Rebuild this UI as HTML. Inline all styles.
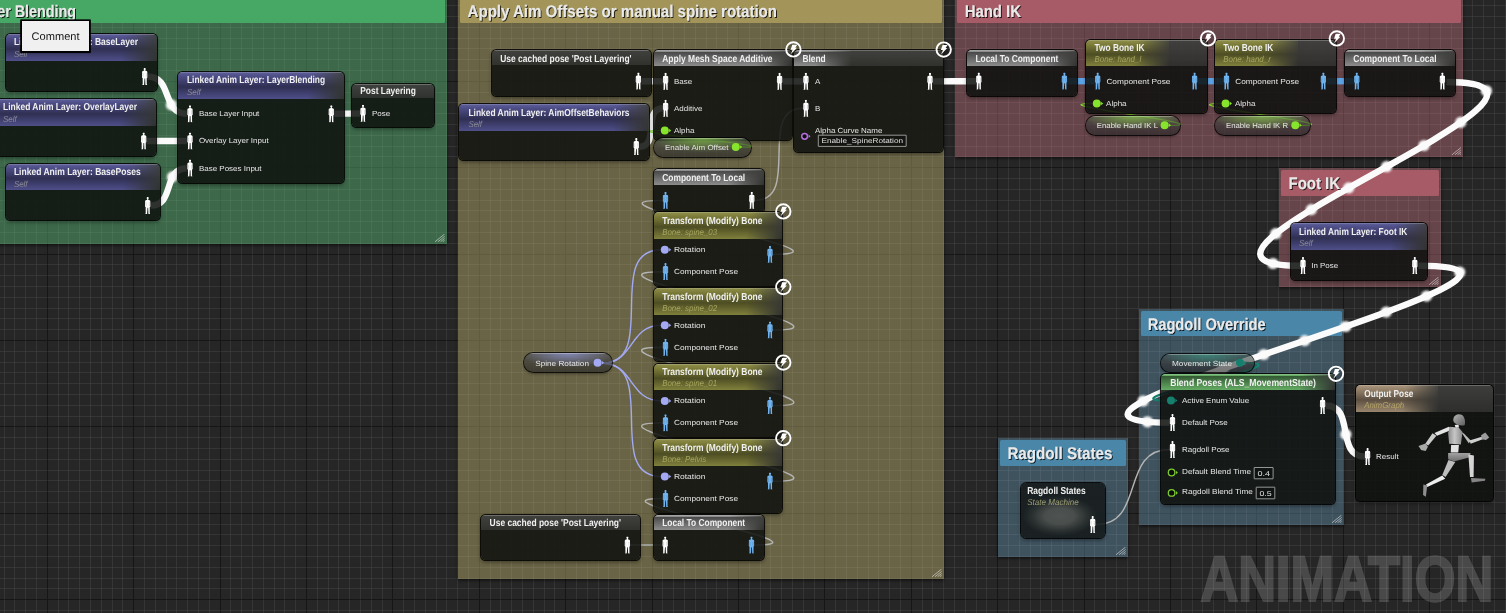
<!DOCTYPE html>
<html lang="en"><head><meta charset="utf-8"><title>AnimGraph</title>
<style>
html,body{margin:0;padding:0;background:#262626;}
body{width:1506px;height:613px;overflow:hidden;font-family:"Liberation Sans",sans-serif;}
#g{position:relative;width:1506px;height:613px;overflow:hidden;background-color:#262626;}
.cm{position:absolute;box-sizing:border-box;box-shadow:0 1.5px 3px rgba(0,0,0,0.55);}
.ch{position:absolute;border-radius:1.5px;}
.rz{position:absolute;}
svg.ly{will-change:transform;position:absolute;left:0;top:0;width:1506px;height:613px;overflow:hidden;pointer-events:none;}
svg text{font-family:"Liberation Sans",sans-serif;white-space:pre;text-rendering:geometricPrecision;}
.sh{paint-order:stroke;}
.nd{position:absolute;box-sizing:border-box;border-radius:4.5px;background:rgba(15,17,15,0.865);
 box-shadow:0 0 0 1px rgba(0,0,0,0.85),0 2px 4px rgba(0,0,0,0.45);overflow:hidden;}
.nh{position:absolute;left:0;top:0;right:0;border-radius:3.5px 3.5px 0 0;overflow:hidden;
 background:linear-gradient(to bottom,rgba(255,255,255,0.36) 0,rgba(255,255,255,0.0) 1.5px),linear-gradient(to bottom,rgba(90,90,88,0.62) 0,rgba(64,64,62,0.62) 100%);}
.sp{position:absolute;left:0;top:0;height:100%;-webkit-mask-image:linear-gradient(100deg,#000 0,#000 calc(100% - 36px),transparent 100%);mask-image:linear-gradient(100deg,#000 0,#000 calc(100% - 36px),transparent 100%);}
.sp.n1{background:linear-gradient(to bottom,rgba(255,255,255,0.30) 0,rgba(255,255,255,0.0) 1.5px,rgba(0,0,0,0.50) 1.6px,rgba(0,0,0,0.30) 45%,rgba(0,0,0,0.0) 100%),var(--c);}
.sp.n2{background:linear-gradient(to bottom,rgba(255,255,255,0.30) 0,rgba(255,255,255,0.04) 1.5px,rgba(0,0,0,0.05) 4px,rgba(0,0,0,0.42) 55%,rgba(0,0,0,0.04) 100%),var(--c);}
.pl{position:absolute;box-sizing:border-box;border-radius:10px;
 background:linear-gradient(to bottom,rgba(255,255,255,0.45) 0,rgba(255,255,255,0.0) 1.4px),
 radial-gradient(ellipse 55% 75% at 50% 0%,var(--g) 0,transparent 100%),
 linear-gradient(to bottom,rgba(72,72,72,0.62) 0,rgba(36,36,36,0.62) 100%);
 box-shadow:0 0 0 1px rgba(0,0,0,0.8),0 2px 3px rgba(0,0,0,0.4);}
.nd.sm{border-radius:5.5px;background:radial-gradient(ellipse 37px 20px at 46% 60%,rgba(80,84,81,0.95) 0,rgba(74,78,75,0.94) 40%,rgba(40,45,44,0.92) 75%,rgba(22,27,27,0.9) 100%);}
#tip{position:absolute;left:22px;top:21px;width:67.1px;height:30.4px;background:#f0f0f0;box-shadow:0 0 0 1.6px #000,0 0.5px 0 1.6px #000;}
</style></head>
<body>
<div id="g">
<svg class="ly" viewBox="0 0 1506 613"><path d="M4.5 0V613M14.5 0V613M25.5 0V613M36.5 0V613M58.5 0V613M68.5 0V613M79.5 0V613M90.5 0V613M101.5 0V613M112.5 0V613M122.5 0V613M144.5 0V613M155.5 0V613M166.5 0V613M176.5 0V613M187.5 0V613M198.5 0V613M209.5 0V613M230.5 0V613M241.5 0V613M252.5 0V613M263.5 0V613M274.5 0V613M284.5 0V613M295.5 0V613M317.5 0V613M328.5 0V613M338.5 0V613M349.5 0V613M360.5 0V613M371.5 0V613M382.5 0V613M403.5 0V613M414.5 0V613M425.5 0V613M436.5 0V613M446.5 0V613M457.5 0V613M468.5 0V613M490.5 0V613M500.5 0V613M511.5 0V613M522.5 0V613M533.5 0V613M544.5 0V613M554.5 0V613M576.5 0V613M587.5 0V613M598.5 0V613M608.5 0V613M619.5 0V613M630.5 0V613M641.5 0V613M662.5 0V613M673.5 0V613M684.5 0V613M695.5 0V613M706.5 0V613M716.5 0V613M727.5 0V613M749.5 0V613M760.5 0V613M770.5 0V613M781.5 0V613M792.5 0V613M803.5 0V613M814.5 0V613M835.5 0V613M846.5 0V613M857.5 0V613M868.5 0V613M878.5 0V613M889.5 0V613M900.5 0V613M922.5 0V613M932.5 0V613M943.5 0V613M954.5 0V613M965.5 0V613M976.5 0V613M986.5 0V613M1008.5 0V613M1019.5 0V613M1030.5 0V613M1040.5 0V613M1051.5 0V613M1062.5 0V613M1073.5 0V613M1094.5 0V613M1105.5 0V613M1116.5 0V613M1127.5 0V613M1138.5 0V613M1148.5 0V613M1159.5 0V613M1181.5 0V613M1192.5 0V613M1202.5 0V613M1213.5 0V613M1224.5 0V613M1235.5 0V613M1246.5 0V613M1267.5 0V613M1278.5 0V613M1289.5 0V613M1300.5 0V613M1310.5 0V613M1321.5 0V613M1332.5 0V613M1354.5 0V613M1364.5 0V613M1375.5 0V613M1386.5 0V613M1397.5 0V613M1408.5 0V613M1418.5 0V613M1440.5 0V613M1451.5 0V613M1462.5 0V613M1472.5 0V613M1483.5 0V613M1494.5 0V613M1505.5 0V613M0 5.5H1506M0 16.5H1506M0 27.5H1506M0 38.5H1506M0 48.5H1506M0 59.5H1506M0 70.5H1506M0 92.5H1506M0 102.5H1506M0 113.5H1506M0 124.5H1506M0 135.5H1506M0 146.5H1506M0 156.5H1506M0 178.5H1506M0 189.5H1506M0 200.5H1506M0 210.5H1506M0 221.5H1506M0 232.5H1506M0 243.5H1506M0 264.5H1506M0 275.5H1506M0 286.5H1506M0 297.5H1506M0 308.5H1506M0 318.5H1506M0 329.5H1506M0 351.5H1506M0 362.5H1506M0 372.5H1506M0 383.5H1506M0 394.5H1506M0 405.5H1506M0 416.5H1506M0 437.5H1506M0 448.5H1506M0 459.5H1506M0 470.5H1506M0 480.5H1506M0 491.5H1506M0 502.5H1506M0 524.5H1506M0 534.5H1506M0 545.5H1506M0 556.5H1506M0 567.5H1506M0 578.5H1506M0 588.5H1506M0 610.5H1506" stroke="#2c2c2c" stroke-width="1" fill="none"/><path d="M47.5 0V613M133.5 0V613M220.5 0V613M306.5 0V613M392.5 0V613M479.5 0V613M565.5 0V613M652.5 0V613M738.5 0V613M824.5 0V613M911.5 0V613M997.5 0V613M1084.5 0V613M1170.5 0V613M1256.5 0V613M1343.5 0V613M1429.5 0V613M0 81.5H1506M0 167.5H1506M0 254.5H1506M0 340.5H1506M0 426.5H1506M0 513.5H1506M0 599.5H1506" stroke="#161616" stroke-width="1" fill="none"/></svg>
<div class="cm" style="left:-40.00px;top:-4.00px;width:487.00px;height:247.90px;background:rgba(80,160,103,0.55)"></div>
<div class="cm" style="left:457.90px;top:-4.00px;width:486.10px;height:583.00px;background:rgba(166,157,100,0.52)"></div>
<div class="cm" style="left:955.00px;top:-4.00px;width:508.10px;height:161.00px;background:rgba(179,106,117,0.46)"></div>
<div class="cm" style="left:1279.00px;top:168.00px;width:162.00px;height:119.00px;background:rgba(179,106,117,0.46)"></div>
<div class="cm" style="left:1139.00px;top:309.00px;width:205.00px;height:215.90px;background:rgba(94,138,164,0.46)"></div>
<div class="cm" style="left:998.00px;top:438.00px;width:130.00px;height:119.00px;background:rgba(94,138,164,0.46)"></div>
<svg class="ly" viewBox="0 0 1506 613"><path d="M4.5 0V613M14.5 0V613M25.5 0V613M36.5 0V613M58.5 0V613M68.5 0V613M79.5 0V613M90.5 0V613M101.5 0V613M112.5 0V613M122.5 0V613M144.5 0V613M155.5 0V613M166.5 0V613M176.5 0V613M187.5 0V613M198.5 0V613M209.5 0V613M230.5 0V613M241.5 0V613M252.5 0V613M263.5 0V613M274.5 0V613M284.5 0V613M295.5 0V613M317.5 0V613M328.5 0V613M338.5 0V613M349.5 0V613M360.5 0V613M371.5 0V613M382.5 0V613M403.5 0V613M414.5 0V613M425.5 0V613M436.5 0V613M446.5 0V613M457.5 0V613M468.5 0V613M490.5 0V613M500.5 0V613M511.5 0V613M522.5 0V613M533.5 0V613M544.5 0V613M554.5 0V613M576.5 0V613M587.5 0V613M598.5 0V613M608.5 0V613M619.5 0V613M630.5 0V613M641.5 0V613M662.5 0V613M673.5 0V613M684.5 0V613M695.5 0V613M706.5 0V613M716.5 0V613M727.5 0V613M749.5 0V613M760.5 0V613M770.5 0V613M781.5 0V613M792.5 0V613M803.5 0V613M814.5 0V613M835.5 0V613M846.5 0V613M857.5 0V613M868.5 0V613M878.5 0V613M889.5 0V613M900.5 0V613M922.5 0V613M932.5 0V613M943.5 0V613M954.5 0V613M965.5 0V613M976.5 0V613M986.5 0V613M1008.5 0V613M1019.5 0V613M1030.5 0V613M1040.5 0V613M1051.5 0V613M1062.5 0V613M1073.5 0V613M1094.5 0V613M1105.5 0V613M1116.5 0V613M1127.5 0V613M1138.5 0V613M1148.5 0V613M1159.5 0V613M1181.5 0V613M1192.5 0V613M1202.5 0V613M1213.5 0V613M1224.5 0V613M1235.5 0V613M1246.5 0V613M1267.5 0V613M1278.5 0V613M1289.5 0V613M1300.5 0V613M1310.5 0V613M1321.5 0V613M1332.5 0V613M1354.5 0V613M1364.5 0V613M1375.5 0V613M1386.5 0V613M1397.5 0V613M1408.5 0V613M1418.5 0V613M1440.5 0V613M1451.5 0V613M1462.5 0V613M1472.5 0V613M1483.5 0V613M1494.5 0V613M1505.5 0V613M0 5.5H1506M0 16.5H1506M0 27.5H1506M0 38.5H1506M0 48.5H1506M0 59.5H1506M0 70.5H1506M0 92.5H1506M0 102.5H1506M0 113.5H1506M0 124.5H1506M0 135.5H1506M0 146.5H1506M0 156.5H1506M0 178.5H1506M0 189.5H1506M0 200.5H1506M0 210.5H1506M0 221.5H1506M0 232.5H1506M0 243.5H1506M0 264.5H1506M0 275.5H1506M0 286.5H1506M0 297.5H1506M0 308.5H1506M0 318.5H1506M0 329.5H1506M0 351.5H1506M0 362.5H1506M0 372.5H1506M0 383.5H1506M0 394.5H1506M0 405.5H1506M0 416.5H1506M0 437.5H1506M0 448.5H1506M0 459.5H1506M0 470.5H1506M0 480.5H1506M0 491.5H1506M0 502.5H1506M0 524.5H1506M0 534.5H1506M0 545.5H1506M0 556.5H1506M0 567.5H1506M0 578.5H1506M0 588.5H1506M0 610.5H1506" stroke="rgba(255,255,255,0.043)" stroke-width="1" fill="none"/></svg>
<div class="ch" style="left:-38.00px;top:-2.00px;width:483.00px;height:25.00px;background:#47a764"></div><svg class="rz" style="left:435.40px;top:234.00px" width="9.6" height="7.8" viewBox="0 0 9.6 7.8"><path d="M0 7.8L9.6 0M2.9 7.8L9.6 2.4M5.5 7.8L9.6 4.5M7.8 7.8L9.6 6.3" stroke="rgba(255,255,255,0.52)" stroke-width="0.95" fill="none"/></svg>
<div class="ch" style="left:459.90px;top:-2.00px;width:482.10px;height:25.00px;background:#a3955a"></div><svg class="rz" style="left:932.40px;top:569.10px" width="9.6" height="7.8" viewBox="0 0 9.6 7.8"><path d="M0 7.8L9.6 0M2.9 7.8L9.6 2.4M5.5 7.8L9.6 4.5M7.8 7.8L9.6 6.3" stroke="rgba(255,255,255,0.52)" stroke-width="0.95" fill="none"/></svg>
<div class="ch" style="left:957.00px;top:-2.00px;width:504.10px;height:25.00px;background:#a65b66"></div><svg class="rz" style="left:1451.50px;top:147.10px" width="9.6" height="7.8" viewBox="0 0 9.6 7.8"><path d="M0 7.8L9.6 0M2.9 7.8L9.6 2.4M5.5 7.8L9.6 4.5M7.8 7.8L9.6 6.3" stroke="rgba(255,255,255,0.52)" stroke-width="0.95" fill="none"/></svg>
<div class="ch" style="left:1281.00px;top:170.00px;width:158.00px;height:25.90px;background:#a65b66"></div><svg class="rz" style="left:1429.40px;top:277.10px" width="9.6" height="7.8" viewBox="0 0 9.6 7.8"><path d="M0 7.8L9.6 0M2.9 7.8L9.6 2.4M5.5 7.8L9.6 4.5M7.8 7.8L9.6 6.3" stroke="rgba(255,255,255,0.52)" stroke-width="0.95" fill="none"/></svg>
<div class="ch" style="left:1141.00px;top:311.00px;width:201.00px;height:24.90px;background:#4a86a8"></div><svg class="rz" style="left:1332.40px;top:515.00px" width="9.6" height="7.8" viewBox="0 0 9.6 7.8"><path d="M0 7.8L9.6 0M2.9 7.8L9.6 2.4M5.5 7.8L9.6 4.5M7.8 7.8L9.6 6.3" stroke="rgba(255,255,255,0.52)" stroke-width="0.95" fill="none"/></svg>
<div class="ch" style="left:1000.00px;top:440.00px;width:126.00px;height:25.90px;background:#4a86a8"></div><svg class="rz" style="left:1116.40px;top:547.10px" width="9.6" height="7.8" viewBox="0 0 9.6 7.8"><path d="M0 7.8L9.6 0M2.9 7.8L9.6 2.4M5.5 7.8L9.6 4.5M7.8 7.8L9.6 6.3" stroke="rgba(255,255,255,0.52)" stroke-width="0.95" fill="none"/></svg>
<svg class="ly" viewBox="0 0 1506 613">
<defs><filter id="bl" x="-50%" y="-50%" width="200%" height="200%"><feGaussianBlur stdDeviation="1.0"/></filter></defs>
<path d="M147.50 76.50 C173.03 76.50 161.27 113.80 186.80 113.80" fill="none" stroke="#fbfbfb" stroke-width="6.4" opacity="1" stroke-linecap="butt"/>
<g fill="#fbfbfb" filter="url(#bl)"><circle cx="171.4" cy="104.9" r="5.60"/></g>
<path d="M146.50 141.00 C159.93 141.00 173.37 141.00 186.80 141.00" fill="none" stroke="#fbfbfb" stroke-width="6.4" opacity="1" stroke-linecap="butt"/>
<path d="M150.80 205.60 C175.27 205.60 162.33 168.20 186.80 168.20" fill="none" stroke="#fbfbfb" stroke-width="6.4" opacity="1" stroke-linecap="butt"/>
<g fill="#fbfbfb" filter="url(#bl)"><circle cx="172.5" cy="176.9" r="5.60"/></g>
<path d="M334.20 113.80 C342.90 113.80 351.30 113.50 360.00 113.50" fill="none" stroke="#fbfbfb" stroke-width="6.4" opacity="1" stroke-linecap="butt"/>
<path d="M641.50 81.20 C648.73 81.20 655.77 81.40 663.00 81.40" fill="none" stroke="#fbfbfb" stroke-width="6.4" opacity="1" stroke-linecap="butt"/>
<path d="M639.30 146.70 C660.00 146.70 642.30 108.30 663.00 108.30" fill="none" stroke="#fbfbfb" stroke-width="6.4" opacity="1" stroke-linecap="butt"/>
<path d="M740.00 147.20 C801.02 147.20 599.98 130.50 661.00 130.50" fill="none" stroke="#7fdc28" stroke-width="1.2" opacity="1" stroke-linecap="butt"/>
<path d="M782.50 81.40 C789.33 81.40 796.17 81.40 803.00 81.40" fill="none" stroke="#fbfbfb" stroke-width="6.4" opacity="1" stroke-linecap="butt"/>
<path d="M755.00 200.40 C801.70 200.40 756.30 108.30 803.00 108.30" fill="none" stroke="#b4b4b4" stroke-width="1.4" opacity="1" stroke-linecap="butt"/>
<path d="M933.00 81.40 C947.40 81.40 961.60 81.20 976.00 81.20" fill="none" stroke="#fbfbfb" stroke-width="6.4" opacity="1" stroke-linecap="butt"/>
<path d="M1067.20 81.20 C1076.40 81.20 1085.60 81.20 1094.80 81.20" fill="none" stroke="#5ea6ea" stroke-width="6.4" opacity="1" stroke-linecap="butt"/>
<path d="M1197.60 81.20 C1206.33 81.20 1215.07 81.20 1223.80 81.20" fill="none" stroke="#5ea6ea" stroke-width="6.4" opacity="1" stroke-linecap="butt"/>
<path d="M1326.80 81.20 C1335.83 81.20 1344.87 81.20 1353.90 81.20" fill="none" stroke="#5ea6ea" stroke-width="6.4" opacity="1" stroke-linecap="butt"/>
<path d="M1168.50 125.50 C1229.83 125.50 1031.67 103.50 1093.00 103.50" fill="none" stroke="#7fdc28" stroke-width="1.2" opacity="1" stroke-linecap="butt"/>
<path d="M1299.20 125.50 C1361.93 125.50 1158.87 103.50 1221.60 103.50" fill="none" stroke="#7fdc28" stroke-width="1.2" opacity="1" stroke-linecap="butt"/>
<path d="M1446.50 82.00 C1631.50 82.00 1116.00 265.80 1301.00 265.80" fill="none" stroke="#fbfbfb" stroke-width="6.4" opacity="1" stroke-linecap="butt"/>
<g fill="#fbfbfb" filter="url(#bl)"><circle cx="1486.4" cy="90.8" r="5.60"/><circle cx="1460.7" cy="122.4" r="5.60"/><circle cx="1424.0" cy="145.5" r="5.60"/><circle cx="1386.6" cy="166.7" r="5.60"/><circle cx="1348.7" cy="187.9" r="5.60"/><circle cx="1311.3" cy="209.6" r="5.60"/><circle cx="1275.7" cy="233.7" r="5.60"/><circle cx="1273.0" cy="263.5" r="5.60"/></g>
<path d="M1418.50 265.80 C1630.23 265.80 957.77 422.60 1169.50 422.60" fill="none" stroke="#fbfbfb" stroke-width="6.4" opacity="1" stroke-linecap="butt"/>
<g fill="#fbfbfb" filter="url(#bl)"><circle cx="1459.7" cy="272.2" r="5.60"/><circle cx="1426.6" cy="296.1" r="5.60"/><circle cx="1386.2" cy="312.0" r="5.60"/><circle cx="1345.7" cy="326.5" r="5.60"/><circle cx="1304.7" cy="340.6" r="5.60"/><circle cx="1263.7" cy="354.5" r="5.60"/><circle cx="1223.2" cy="368.6" r="5.60"/><circle cx="1182.5" cy="383.7" r="5.60"/><circle cx="1143.1" cy="401.0" r="5.60"/><circle cx="1147.4" cy="421.8" r="5.60"/></g>
<path d="M1325.60 405.50 C1355.73 405.50 1334.87 456.50 1365.00 456.50" fill="none" stroke="#fbfbfb" stroke-width="6.4" opacity="1" stroke-linecap="butt"/>
<g fill="#fbfbfb" filter="url(#bl)"><circle cx="1345.9" cy="434.4" r="5.60"/></g>
<path d="M1096.00 524.60 C1145.53 524.60 1119.97 449.50 1169.50 449.50" fill="none" stroke="#b4b4b4" stroke-width="1.4" opacity="1" stroke-linecap="butt"/>
<path d="M1244.50 362.90 C1314.68 362.90 1097.32 400.60 1167.50 400.60" fill="none" stroke="#16806f" stroke-width="2.3" opacity="1" stroke-linecap="butt"/>
<path d="M602.00 363.30 C659.53 363.30 603.47 249.70 661.00 249.70" fill="none" stroke="#a3a9f2" stroke-width="1.4" opacity="1" stroke-linecap="butt"/>
<path d="M602.00 363.30 C634.33 363.30 628.67 325.30 661.00 325.30" fill="none" stroke="#a3a9f2" stroke-width="1.4" opacity="1" stroke-linecap="butt"/>
<path d="M602.00 363.30 C634.20 363.30 628.80 400.90 661.00 400.90" fill="none" stroke="#a3a9f2" stroke-width="1.4" opacity="1" stroke-linecap="butt"/>
<path d="M602.00 363.30 C659.40 363.30 603.60 476.50 661.00 476.50" fill="none" stroke="#a3a9f2" stroke-width="1.4" opacity="1" stroke-linecap="butt"/>
<path d="M755.50 545.00 C840.75 545.00 577.25 498.50 662.50 498.50" fill="none" stroke="#b4b4b4" stroke-width="1.4" opacity="1" stroke-linecap="butt"/>
<path d="M773.00 481.20 C875.82 481.20 559.68 422.90 662.50 422.90" fill="none" stroke="#b4b4b4" stroke-width="1.4" opacity="1" stroke-linecap="butt"/>
<path d="M773.00 405.60 C875.82 405.60 559.68 347.30 662.50 347.30" fill="none" stroke="#b4b4b4" stroke-width="1.4" opacity="1" stroke-linecap="butt"/>
<path d="M773.00 330.00 C875.82 330.00 559.68 271.70 662.50 271.70" fill="none" stroke="#b4b4b4" stroke-width="1.4" opacity="1" stroke-linecap="butt"/>
<path d="M773.00 254.40 C873.67 254.40 561.83 200.40 662.50 200.40" fill="none" stroke="#b4b4b4" stroke-width="1.4" opacity="1" stroke-linecap="butt"/>
<path d="M630.50 545.00 C641.00 545.00 651.50 545.00 662.00 545.00" fill="none" stroke="#b4b4b4" stroke-width="1.4" opacity="1" stroke-linecap="butt"/>
</svg>
<div class="nd" style="left:6.20px;top:34.00px;width:150.60px;height:56.60px"><div class="nh" style="height:26.80px"><div class="sp n2" style="width:150.6px;--c:#52528f"></div></div></div>
<div class="nd" style="left:-4.60px;top:98.90px;width:160.60px;height:57.20px"><div class="nh" style="height:26.80px"><div class="sp n2" style="width:160.6px;--c:#52528f"></div></div></div>
<div class="nd" style="left:6.20px;top:163.80px;width:153.90px;height:56.10px"><div class="nh" style="height:26.10px"><div class="sp n2" style="width:153.9px;--c:#52528f"></div></div></div>
<div class="nd" style="left:178.00px;top:71.70px;width:166.30px;height:111.10px"><div class="nh" style="height:27.10px"><div class="sp n2" style="width:166.3px;--c:#52528f"></div></div></div>
<div class="nd" style="left:351.70px;top:83.80px;width:82.80px;height:43.50px"><div class="nh" style="height:14.20px"></div></div>
<div class="nd" style="left:491.60px;top:50.10px;width:159.20px;height:45.50px"><div class="nh" style="height:15.30px"></div></div>
<div class="nd" style="left:459.10px;top:104.40px;width:189.70px;height:55.90px"><div class="nh" style="height:26.50px"><div class="sp n2" style="width:189.7px;--c:#52528f"></div></div></div>
<div class="nd" style="left:654.10px;top:50.00px;width:137.70px;height:89.80px"><div class="nh" style="height:15.60px"><div class="sp n1" style="width:137.7px;--c:#8c8c8c"></div></div></div>
<div class="pl" style="left:654.40px;top:137.50px;width:96.40px;height:19.10px;--g:rgba(150,230,80,0.62)"></div>
<div class="nd" style="left:794.10px;top:50.00px;width:148.50px;height:101.60px"><div class="nh" style="height:15.60px"><div class="sp n1" style="width:56.6px;--c:#8c8c8c"></div></div></div>
<div class="nd" style="left:653.90px;top:169.00px;width:109.90px;height:44.40px"><div class="nh" style="height:15.90px"><div class="sp n1" style="width:109.9px;--c:#8c8c8c"></div></div></div>
<div class="nd" style="left:653.90px;top:212.40px;width:128.50px;height:73.40px"><div class="nh" style="height:26.70px"><div class="sp n2" style="width:128.5px;--c:#85853e"></div></div></div>
<div class="nd" style="left:653.90px;top:288.00px;width:128.50px;height:73.40px"><div class="nh" style="height:26.70px"><div class="sp n2" style="width:128.5px;--c:#85853e"></div></div></div>
<div class="nd" style="left:653.90px;top:363.60px;width:128.50px;height:73.40px"><div class="nh" style="height:26.70px"><div class="sp n2" style="width:128.5px;--c:#85853e"></div></div></div>
<div class="nd" style="left:653.90px;top:439.20px;width:128.50px;height:73.40px"><div class="nh" style="height:26.70px"><div class="sp n2" style="width:128.5px;--c:#85853e"></div></div></div>
<div class="pl" style="left:524.00px;top:353.30px;width:87.70px;height:19.00px;--g:rgba(160,170,250,0.62)"></div>
<div class="nd" style="left:481.40px;top:514.90px;width:158.20px;height:45.00px"><div class="nh" style="height:15.30px"></div></div>
<div class="nd" style="left:654.00px;top:514.90px;width:109.70px;height:45.00px"><div class="nh" style="height:15.30px"><div class="sp n1" style="width:109.7px;--c:#8c8c8c"></div></div></div>
<div class="nd" style="left:967.10px;top:50.10px;width:109.80px;height:45.50px"><div class="nh" style="height:15.50px"><div class="sp n1" style="width:109.8px;--c:#8c8c8c"></div></div></div>
<div class="nd" style="left:1086.30px;top:40.30px;width:121.10px;height:72.40px"><div class="nh" style="height:25.30px"><div class="sp n2" style="width:83.2px;--c:#85853e"></div></div></div>
<div class="pl" style="left:1086.30px;top:115.50px;width:93.60px;height:19.70px;--g:rgba(150,230,80,0.62)"></div>
<div class="nd" style="left:1215.10px;top:40.30px;width:121.10px;height:72.40px"><div class="nh" style="height:25.30px"><div class="sp n2" style="width:83.2px;--c:#85853e"></div></div></div>
<div class="pl" style="left:1215.10px;top:115.50px;width:94.80px;height:19.70px;--g:rgba(150,230,80,0.62)"></div>
<div class="nd" style="left:1345.00px;top:50.10px;width:110.00px;height:45.50px"><div class="nh" style="height:15.50px"><div class="sp n1" style="width:110.0px;--c:#8c8c8c"></div></div></div>
<div class="nd" style="left:1290.90px;top:223.10px;width:136.20px;height:56.70px"><div class="nh" style="height:26.70px"><div class="sp n2" style="width:136.2px;--c:#52528f"></div></div></div>
<div class="pl" style="left:1161.40px;top:353.60px;width:92.50px;height:18.70px;--g:rgba(60,170,150,0.60)"></div>
<div class="nd" style="left:1160.90px;top:374.30px;width:174.10px;height:130.20px"><div class="nh" style="height:15.50px"><div class="sp n1" style="width:174.1px;--c:#64ac64"></div></div></div>
<div class="nd sm" style="left:1021.2px;top:482.5px;width:83.7px;height:55.7px"></div>
<div class="nd" style="left:1356.00px;top:384.80px;width:136.60px;height:116.00px"><div class="nh" style="height:27.20px"><div class="sp n2" style="width:82.4px;--c:#a08b72"></div></div></div>
<svg class="ly" viewBox="0 0 1506 613">
<defs>
<filter id="ds" x="-5%" y="-30%" width="110%" height="170%"><feDropShadow dx="1" dy="1" stdDeviation="0.15" flood-color="#000" flood-opacity="0.78"/></filter>
<filter id="sf" x="-10%" y="-10%" width="120%" height="120%"><feGaussianBlur stdDeviation="0.45"/></filter>
<symbol id="pp" viewBox="0 0 7 17.2" width="7" height="17.2">
<path d="M3.5 0C4.15 0 4.55 0.5 4.55 1.1C4.55 1.7 4.3 2.1 4.0 2.3L4.0 2.7C5.0 2.9 5.9 3.2 6.1 4.0L6.2 9.5L5.8 10.0L5.55 10.0L5.55 16.2L6.0 17.0L4.2 17.0L3.95 10.7L3.3 10.7L2.9 17.0L1.0 17.0L1.5 16.2L1.45 10.0L1.2 10.0L0.8 9.5L0.9 4.0C1.1 3.2 2.0 2.9 3.0 2.7L3.0 2.3C2.7 2.1 2.45 1.7 2.45 1.1C2.45 0.5 2.85 0 3.5 0Z"/>
<path d="M1.95 5.2L1.85 9.3M5.05 5.2L5.15 9.3" stroke="rgba(0,0,0,0.28)" stroke-width="0.5" fill="none"/>
</symbol>
<symbol id="bolt" viewBox="0 0 18 18" width="18" height="18">
<circle cx="9" cy="9" r="7.2" fill="rgba(20,20,20,0.12)" stroke="#ffffff" stroke-width="1.9"/>
<path d="M7.9 4.3L12.9 4.3L10.9 7.4L12.6 7.4L6.3 13.9L8.3 9.4L6.2 9.4Z" fill="#ffffff"/>
</symbol>
</defs>
<use href="#pp" x="141.20" y="67.90" fill="#ffffff" opacity="1"/>
<use href="#pp" x="140.20" y="132.40" fill="#ffffff" opacity="1"/>
<use href="#pp" x="144.20" y="197.00" fill="#ffffff" opacity="1"/>
<use href="#pp" x="186.50" y="105.20" fill="#ffffff" opacity="1"/>
<use href="#pp" x="186.50" y="132.40" fill="#ffffff" opacity="1"/>
<use href="#pp" x="186.50" y="159.60" fill="#ffffff" opacity="1"/>
<use href="#pp" x="327.80" y="105.20" fill="#ffffff" opacity="1"/>
<use href="#pp" x="359.50" y="104.70" fill="#ffffff" opacity="1"/>
<use href="#pp" x="634.90" y="72.60" fill="#ffffff" opacity="1"/>
<use href="#pp" x="632.80" y="138.10" fill="#ffffff" opacity="1"/>
<use href="#pp" x="662.10" y="72.80" fill="#ffffff" opacity="1"/>
<use href="#pp" x="662.10" y="99.70" fill="#ffffff" opacity="1"/>
<circle cx="664.80" cy="130.50" r="4.0" fill="#86e42c"/><path d="M669.10 128.70 L671.20 130.50 L669.10 132.30Z" fill="#86e42c"/>
<use href="#pp" x="776.10" y="72.80" fill="#ffffff" opacity="1"/>
<circle cx="735.80" cy="146.95" r="4.0" fill="#86e42c"/><path d="M740.10 145.15 L742.20 146.95 L740.10 148.75Z" fill="#86e42c"/>
<use href="#pp" x="802.40" y="72.80" fill="#ffffff" opacity="1"/>
<use href="#pp" x="802.40" y="99.70" fill="#ffffff" opacity="1"/>
<circle cx="804.60" cy="136.30" r="2.9" fill="rgba(0,0,0,0.45)" stroke="#b56ee2" stroke-width="1.5"/><path d="M808.60 134.50 L810.50 136.30 L808.60 138.10Z" fill="#b56ee2"/>
<rect x="818.30" y="135.20" width="87.90" height="11.20" rx="0.2" fill="rgba(0,0,0,0.25)" stroke="#c0c0c0" stroke-width="0.75"/>
<use href="#pp" x="926.50" y="72.80" fill="#ffffff" opacity="1"/>
<use href="#pp" x="662.00" y="191.80" fill="#6fb4f0" opacity="1"/>
<use href="#pp" x="748.30" y="191.80" fill="#ffffff" opacity="1"/>
<circle cx="664.80" cy="249.70" r="4.0" fill="#a3a9f2"/><path d="M669.10 247.90 L671.20 249.70 L669.10 251.50Z" fill="#a3a9f2"/>
<use href="#pp" x="662.00" y="263.10" fill="#6fb4f0" opacity="1"/>
<use href="#pp" x="766.50" y="245.80" fill="#6fb4f0" opacity="1"/>
<circle cx="664.80" cy="325.30" r="4.0" fill="#a3a9f2"/><path d="M669.10 323.50 L671.20 325.30 L669.10 327.10Z" fill="#a3a9f2"/>
<use href="#pp" x="662.00" y="338.70" fill="#6fb4f0" opacity="1"/>
<use href="#pp" x="766.50" y="321.40" fill="#6fb4f0" opacity="1"/>
<circle cx="664.80" cy="400.90" r="4.0" fill="#a3a9f2"/><path d="M669.10 399.10 L671.20 400.90 L669.10 402.70Z" fill="#a3a9f2"/>
<use href="#pp" x="662.00" y="414.30" fill="#6fb4f0" opacity="1"/>
<use href="#pp" x="766.50" y="397.00" fill="#6fb4f0" opacity="1"/>
<circle cx="664.80" cy="476.50" r="4.0" fill="#a3a9f2"/><path d="M669.10 474.70 L671.20 476.50 L669.10 478.30Z" fill="#a3a9f2"/>
<use href="#pp" x="662.00" y="489.90" fill="#6fb4f0" opacity="1"/>
<use href="#pp" x="766.50" y="472.60" fill="#6fb4f0" opacity="1"/>
<circle cx="597.60" cy="362.70" r="4.0" fill="#a3a9f2"/><path d="M601.90 360.90 L604.00 362.70 L601.90 364.50Z" fill="#a3a9f2"/>
<use href="#pp" x="623.90" y="536.50" fill="#ffffff" opacity="1"/>
<use href="#pp" x="661.70" y="536.50" fill="#ffffff" opacity="1"/>
<use href="#pp" x="748.00" y="536.50" fill="#6fb4f0" opacity="1"/>
<use href="#pp" x="975.30" y="72.60" fill="#ffffff" opacity="1"/>
<use href="#pp" x="1060.90" y="72.60" fill="#6fb4f0" opacity="1"/>
<use href="#pp" x="1094.20" y="72.60" fill="#6fb4f0" opacity="1"/>
<circle cx="1096.80" cy="103.50" r="4.0" fill="#86e42c"/><path d="M1101.10 101.70 L1103.20 103.50 L1101.10 105.30Z" fill="#86e42c"/>
<use href="#pp" x="1191.10" y="72.60" fill="#6fb4f0" opacity="1"/>
<circle cx="1164.60" cy="125.25" r="4.0" fill="#86e42c"/><path d="M1168.90 123.45 L1171.00 125.25 L1168.90 127.05Z" fill="#86e42c"/>
<use href="#pp" x="1223.00" y="72.60" fill="#6fb4f0" opacity="1"/>
<circle cx="1225.60" cy="103.50" r="4.0" fill="#86e42c"/><path d="M1229.90 101.70 L1232.00 103.50 L1229.90 105.30Z" fill="#86e42c"/>
<use href="#pp" x="1319.90" y="72.60" fill="#6fb4f0" opacity="1"/>
<circle cx="1295.30" cy="125.25" r="4.0" fill="#86e42c"/><path d="M1299.60 123.45 L1301.70 125.25 L1299.60 127.05Z" fill="#86e42c"/>
<use href="#pp" x="1353.30" y="72.60" fill="#6fb4f0" opacity="1"/>
<use href="#pp" x="1438.90" y="72.60" fill="#ffffff" opacity="1"/>
<use href="#pp" x="1299.50" y="256.90" fill="#ffffff" opacity="1"/>
<use href="#pp" x="1411.30" y="256.90" fill="#ffffff" opacity="1"/>
<circle cx="1240.00" cy="362.85" r="4.0" fill="#16806f"/><path d="M1244.30 361.05 L1246.40 362.85 L1244.30 364.65Z" fill="#16806f"/>
<circle cx="1171.00" cy="400.60" r="4.0" fill="#16806f"/><path d="M1175.30 398.80 L1177.40 400.60 L1175.30 402.40Z" fill="#16806f"/>
<use href="#pp" x="1169.00" y="414.00" fill="#ffffff" opacity="1"/>
<use href="#pp" x="1169.00" y="440.90" fill="#ffffff" opacity="1"/>
<circle cx="1171.60" cy="472.50" r="3.3" fill="rgba(0,0,0,0.45)" stroke="#7ecb30" stroke-width="1.3"/><path d="M1176.00 470.70 L1177.90 472.50 L1176.00 474.30Z" fill="#7ecb30"/>
<rect x="1254.20" y="467.50" width="18.90" height="11.30" rx="0.2" fill="rgba(0,0,0,0.25)" stroke="#c0c0c0" stroke-width="0.75"/>
<circle cx="1171.60" cy="492.90" r="3.3" fill="rgba(0,0,0,0.45)" stroke="#7ecb30" stroke-width="1.3"/><path d="M1176.00 491.10 L1177.90 492.90 L1176.00 494.70Z" fill="#7ecb30"/>
<rect x="1256.20" y="487.20" width="18.60" height="11.60" rx="0.2" fill="rgba(0,0,0,0.25)" stroke="#c0c0c0" stroke-width="0.75"/>
<use href="#pp" x="1319.10" y="396.90" fill="#ffffff" opacity="1"/>
<use href="#pp" x="1089.20" y="515.90" fill="#ffffff" opacity="1"/>
<use href="#pp" x="1364.10" y="447.90" fill="#ffffff" opacity="1"/>
<g filter="url(#sf)"><g transform="translate(1410,405) scale(0.16305)"><defs><linearGradient id="mg1" x1="0" y1="0" x2="1" y2="1"><stop offset="0" stop-color="#b4b4b4"/><stop offset="1" stop-color="#5e5e5e"/></linearGradient><linearGradient id="mg2" x1="0" y1="0" x2="1" y2="0"><stop offset="0" stop-color="#8c8c8c"/><stop offset="0.45" stop-color="#c6c6c6"/><stop offset="1" stop-color="#8a8a8a"/></linearGradient><linearGradient id="mg3" x1="0" y1="0" x2="0" y2="1"><stop offset="0" stop-color="#a2a2a2"/><stop offset="1" stop-color="#6e6e6e"/></linearGradient></defs><polygon points="236,338 278,350 218,442 198,430" fill="#bdbdbd"/><polygon points="198,432 216,452 106,503 98,488" fill="#ececec"/><polygon points="82,488 106,494 97,562 80,552" fill="#8e8e8e"/><polygon points="150,172 238,134 260,150 166,188" fill="#e4e4e4"/><polygon points="138,174 162,188 112,248 94,238" fill="#cacaca"/><polygon points="52,252 96,236 110,256 96,282 68,276" fill="#a8a8a8"/><polygon points="312,162 332,176 374,220 360,234" fill="#bcbcbc"/><polygon points="364,218 440,194 446,210 372,238" fill="#cfcfcf"/><polygon points="436,186 462,168 486,200 466,214 440,210" fill="#9c9c9c"/><polygon points="244,134 300,140 322,166 312,242 240,238 234,172" fill="url(#mg2)"/><polygon points="252,246 300,246 296,292 250,292" fill="#e2e2e2"/><polygon points="234,294 372,294 362,322 270,346 234,332" fill="url(#mg3)"/><polygon points="358,304 392,310 390,442 368,442" fill="#d4d4d4"/><polygon points="374,448 462,452 460,464 378,476" fill="#848484"/><polygon points="274,122 298,120 300,138 280,140" fill="#e8e8e8"/><path d="M266 84 C270 58 300 50 320 62 C334 74 342 100 336 122 C320 130 290 124 274 110 C266 102 264 94 266 84Z" fill="url(#mg1)"/></g></g>
<use href="#bolt" x="784.40" y="40.40"/>
<use href="#bolt" x="934.70" y="40.60"/>
<use href="#bolt" x="774.30" y="202.40"/>
<use href="#bolt" x="774.30" y="278.00"/>
<use href="#bolt" x="774.30" y="353.60"/>
<use href="#bolt" x="774.30" y="429.20"/>
<use href="#bolt" x="1199.00" y="29.40"/>
<use href="#bolt" x="1327.80" y="29.40"/>
<use href="#bolt" x="1327.00" y="364.80"/>
<text x="-27.45" y="16.70" font-size="17.0" fill="#e9e9e9" font-weight="bold" textLength="103.35" lengthAdjust="spacingAndGlyphs" filter="url(#ds)">Layer Blending</text>
<text x="467.60" y="17.10" font-size="17.0" fill="#e9e9e9" font-weight="bold" textLength="309.40" lengthAdjust="spacingAndGlyphs" filter="url(#ds)">Apply Aim Offsets or manual spine rotation</text>
<text x="964.70" y="17.10" font-size="17.0" fill="#e9e9e9" font-weight="bold" textLength="56.30" lengthAdjust="spacingAndGlyphs" filter="url(#ds)">Hand IK</text>
<text x="1288.50" y="189.10" font-size="17.0" fill="#e9e9e9" font-weight="bold" textLength="51.50" lengthAdjust="spacingAndGlyphs" filter="url(#ds)">Foot IK</text>
<text x="1147.70" y="329.90" font-size="17.0" fill="#e9e9e9" font-weight="bold" textLength="117.90" lengthAdjust="spacingAndGlyphs" filter="url(#ds)">Ragdoll Override</text>
<text x="1007.40" y="459.40" font-size="17.0" fill="#e9e9e9" font-weight="bold" textLength="104.90" lengthAdjust="spacingAndGlyphs" filter="url(#ds)">Ragdoll States</text>
<text x="13.90" y="45.40" font-size="10.1" fill="#f0f0f0" font-weight="bold" textLength="124.10" lengthAdjust="spacingAndGlyphs">Linked Anim Layer: BaseLayer</text>
<text x="13.90" y="56.90" font-size="8.6" fill="#8a8a96" font-style="italic" textLength="13.63" lengthAdjust="spacingAndGlyphs">Self</text>
<text x="3.10" y="110.30" font-size="10.1" fill="#f0f0f0" font-weight="bold" textLength="133.90" lengthAdjust="spacingAndGlyphs">Linked Anim Layer: OverlayLayer</text>
<text x="3.10" y="121.80" font-size="8.6" fill="#8a8a96" font-style="italic" textLength="13.63" lengthAdjust="spacingAndGlyphs">Self</text>
<text x="13.90" y="175.20" font-size="10.1" fill="#f0f0f0" font-weight="bold" textLength="126.80" lengthAdjust="spacingAndGlyphs">Linked Anim Layer: BasePoses</text>
<text x="13.90" y="186.70" font-size="8.6" fill="#8a8a96" font-style="italic" textLength="13.63" lengthAdjust="spacingAndGlyphs">Self</text>
<text x="187.00" y="83.10" font-size="10.1" fill="#f0f0f0" font-weight="bold" textLength="138.10" lengthAdjust="spacingAndGlyphs">Linked Anim Layer: LayerBlending</text>
<text x="187.00" y="94.60" font-size="8.6" fill="#8a8a96" font-style="italic" textLength="13.63" lengthAdjust="spacingAndGlyphs">Self</text>
<text x="198.90" y="116.20" font-size="7.4" fill="#e6e6e6" textLength="60.43" lengthAdjust="spacingAndGlyphs">Base Layer Input</text>
<text x="198.90" y="143.40" font-size="7.4" fill="#e6e6e6" textLength="69.74" lengthAdjust="spacingAndGlyphs">Overlay Layer Input</text>
<text x="198.90" y="170.60" font-size="7.4" fill="#e6e6e6" textLength="62.65" lengthAdjust="spacingAndGlyphs">Base Poses Input</text>
<text x="360.20" y="93.80" font-size="10.1" fill="#f0f0f0" font-weight="bold" textLength="55.70" lengthAdjust="spacingAndGlyphs">Post Layering</text>
<text x="372.00" y="115.70" font-size="7.4" fill="#e6e6e6" textLength="18.22" lengthAdjust="spacingAndGlyphs">Pose</text>
<text x="500.20" y="61.90" font-size="10.1" fill="#f0f0f0" font-weight="bold" textLength="131.40" lengthAdjust="spacingAndGlyphs">Use cached pose 'Post Layering'</text>
<text x="468.40" y="115.80" font-size="10.1" fill="#f0f0f0" font-weight="bold" textLength="161.00" lengthAdjust="spacingAndGlyphs">Linked Anim Layer: AimOffsetBehaviors</text>
<text x="468.40" y="127.30" font-size="8.6" fill="#8a8a96" font-style="italic" textLength="13.63" lengthAdjust="spacingAndGlyphs">Self</text>
<text x="662.20" y="61.80" font-size="10.1" fill="#f0f0f0" font-weight="bold" textLength="110.40" lengthAdjust="spacingAndGlyphs">Apply Mesh Space Additive</text>
<text x="674.00" y="83.80" font-size="7.4" fill="#e6e6e6" textLength="18.22" lengthAdjust="spacingAndGlyphs">Base</text>
<text x="674.00" y="110.70" font-size="7.4" fill="#e6e6e6" textLength="28.43" lengthAdjust="spacingAndGlyphs">Additive</text>
<text x="674.00" y="132.80" font-size="7.4" fill="#e6e6e6" textLength="20.44" lengthAdjust="spacingAndGlyphs">Alpha</text>
<text x="665.00" y="149.95" font-size="7.4" fill="#e6e6e6" textLength="63.50" lengthAdjust="spacingAndGlyphs">Enable Aim Offset</text>
<text x="802.40" y="61.80" font-size="10.1" fill="#f0f0f0" font-weight="bold" textLength="23.34" lengthAdjust="spacingAndGlyphs">Blend</text>
<text x="814.90" y="83.80" font-size="7.4" fill="#e6e6e6" textLength="5.33" lengthAdjust="spacingAndGlyphs">A</text>
<text x="814.90" y="110.70" font-size="7.4" fill="#e6e6e6" textLength="5.33" lengthAdjust="spacingAndGlyphs">B</text>
<text x="814.90" y="132.60" font-size="7.4" fill="#e6e6e6" textLength="67.52" lengthAdjust="spacingAndGlyphs">Alpha Curve Name</text>
<text x="821.50" y="143.20" font-size="7.0" fill="#e0e0e0" textLength="81.50" lengthAdjust="spacingAndGlyphs">Enable_SpineRotation</text>
<text x="662.20" y="180.80" font-size="10.1" fill="#f0f0f0" font-weight="bold" textLength="83.00" lengthAdjust="spacingAndGlyphs">Component To Local</text>
<text x="662.20" y="224.20" font-size="10.1" fill="#f0f0f0" font-weight="bold" textLength="100.30" lengthAdjust="spacingAndGlyphs">Transform (Modify) Bone</text>
<text x="662.20" y="235.00" font-size="8.6" fill="#a6a55e" font-style="italic" textLength="54.99" lengthAdjust="spacingAndGlyphs">Bone: spine_03</text>
<text x="674.00" y="252.00" font-size="7.4" fill="#e6e6e6" textLength="31.40" lengthAdjust="spacingAndGlyphs">Rotation</text>
<text x="674.00" y="274.00" font-size="7.4" fill="#e6e6e6" textLength="64.00" lengthAdjust="spacingAndGlyphs">Component Pose</text>
<text x="662.20" y="299.80" font-size="10.1" fill="#f0f0f0" font-weight="bold" textLength="100.30" lengthAdjust="spacingAndGlyphs">Transform (Modify) Bone</text>
<text x="662.20" y="310.60" font-size="8.6" fill="#a6a55e" font-style="italic" textLength="54.99" lengthAdjust="spacingAndGlyphs">Bone: spine_02</text>
<text x="674.00" y="327.60" font-size="7.4" fill="#e6e6e6" textLength="31.40" lengthAdjust="spacingAndGlyphs">Rotation</text>
<text x="674.00" y="349.60" font-size="7.4" fill="#e6e6e6" textLength="64.00" lengthAdjust="spacingAndGlyphs">Component Pose</text>
<text x="662.20" y="375.40" font-size="10.1" fill="#f0f0f0" font-weight="bold" textLength="100.30" lengthAdjust="spacingAndGlyphs">Transform (Modify) Bone</text>
<text x="662.20" y="386.20" font-size="8.6" fill="#a6a55e" font-style="italic" textLength="54.99" lengthAdjust="spacingAndGlyphs">Bone: spine_01</text>
<text x="674.00" y="403.20" font-size="7.4" fill="#e6e6e6" textLength="31.40" lengthAdjust="spacingAndGlyphs">Rotation</text>
<text x="674.00" y="425.20" font-size="7.4" fill="#e6e6e6" textLength="64.00" lengthAdjust="spacingAndGlyphs">Component Pose</text>
<text x="662.20" y="451.00" font-size="10.1" fill="#f0f0f0" font-weight="bold" textLength="100.30" lengthAdjust="spacingAndGlyphs">Transform (Modify) Bone</text>
<text x="662.20" y="461.80" font-size="8.6" fill="#a6a55e" font-style="italic" textLength="43.98" lengthAdjust="spacingAndGlyphs">Bone: Pelvis</text>
<text x="674.00" y="478.80" font-size="7.4" fill="#e6e6e6" textLength="31.40" lengthAdjust="spacingAndGlyphs">Rotation</text>
<text x="674.00" y="500.80" font-size="7.4" fill="#e6e6e6" textLength="64.00" lengthAdjust="spacingAndGlyphs">Component Pose</text>
<text x="535.20" y="365.70" font-size="7.4" fill="#e6e6e6" textLength="53.80" lengthAdjust="spacingAndGlyphs">Spine Rotation</text>
<text x="489.60" y="525.90" font-size="10.1" fill="#f0f0f0" font-weight="bold" textLength="131.40" lengthAdjust="spacingAndGlyphs">Use cached pose 'Post Layering'</text>
<text x="662.20" y="525.90" font-size="10.1" fill="#f0f0f0" font-weight="bold" textLength="82.94" lengthAdjust="spacingAndGlyphs">Local To Component</text>
<text x="975.40" y="61.90" font-size="10.1" fill="#f0f0f0" font-weight="bold" textLength="82.94" lengthAdjust="spacingAndGlyphs">Local To Component</text>
<text x="1094.50" y="51.10" font-size="10.1" fill="#f0f0f0" font-weight="bold" textLength="50.00" lengthAdjust="spacingAndGlyphs">Two Bone IK</text>
<text x="1094.50" y="61.90" font-size="8.6" fill="#a6a55e" font-style="italic" textLength="46.64" lengthAdjust="spacingAndGlyphs">Bone: hand_l</text>
<text x="1106.40" y="83.60" font-size="7.4" fill="#e6e6e6" textLength="64.00" lengthAdjust="spacingAndGlyphs">Component Pose</text>
<text x="1106.10" y="105.80" font-size="7.4" fill="#e6e6e6" textLength="20.44" lengthAdjust="spacingAndGlyphs">Alpha</text>
<text x="1096.80" y="128.25" font-size="7.4" fill="#e6e6e6" textLength="61.20" lengthAdjust="spacingAndGlyphs">Enable Hand IK L</text>
<text x="1223.30" y="51.10" font-size="10.1" fill="#f0f0f0" font-weight="bold" textLength="50.00" lengthAdjust="spacingAndGlyphs">Two Bone IK</text>
<text x="1223.30" y="61.90" font-size="8.6" fill="#a6a55e" font-style="italic" textLength="47.51" lengthAdjust="spacingAndGlyphs">Bone: hand_r</text>
<text x="1235.20" y="83.60" font-size="7.4" fill="#e6e6e6" textLength="64.00" lengthAdjust="spacingAndGlyphs">Component Pose</text>
<text x="1234.90" y="105.80" font-size="7.4" fill="#e6e6e6" textLength="20.44" lengthAdjust="spacingAndGlyphs">Alpha</text>
<text x="1226.00" y="128.25" font-size="7.4" fill="#e6e6e6" textLength="62.00" lengthAdjust="spacingAndGlyphs">Enable Hand IK R</text>
<text x="1353.30" y="61.90" font-size="10.1" fill="#f0f0f0" font-weight="bold" textLength="83.20" lengthAdjust="spacingAndGlyphs">Component To Local</text>
<text x="1299.00" y="234.50" font-size="10.1" fill="#f0f0f0" font-weight="bold" textLength="108.40" lengthAdjust="spacingAndGlyphs">Linked Anim Layer: Foot IK</text>
<text x="1299.00" y="246.00" font-size="8.6" fill="#8a8a96" font-style="italic" textLength="13.63" lengthAdjust="spacingAndGlyphs">Self</text>
<text x="1311.20" y="267.80" font-size="7.4" fill="#e6e6e6" textLength="26.90" lengthAdjust="spacingAndGlyphs">In Pose</text>
<text x="1172.00" y="365.85" font-size="7.4" fill="#e6e6e6" textLength="60.00" lengthAdjust="spacingAndGlyphs">Movement State</text>
<text x="1170.20" y="386.20" font-size="10.1" fill="#f0f0f0" font-weight="bold" textLength="145.80" lengthAdjust="spacingAndGlyphs">Blend Poses (ALS_MovementState)</text>
<text x="1182.00" y="403.00" font-size="7.4" fill="#e6e6e6" textLength="67.30" lengthAdjust="spacingAndGlyphs">Active Enum Value</text>
<text x="1182.00" y="425.00" font-size="7.4" fill="#e6e6e6" textLength="45.76" lengthAdjust="spacingAndGlyphs">Default Pose</text>
<text x="1182.00" y="451.80" font-size="7.4" fill="#e6e6e6" textLength="47.54" lengthAdjust="spacingAndGlyphs">Ragdoll Pose</text>
<text x="1182.00" y="474.00" font-size="7.4" fill="#e6e6e6" textLength="69.00" lengthAdjust="spacingAndGlyphs">Default Blend Time</text>
<text x="1257.40" y="475.60" font-size="7.0" fill="#e0e0e0" textLength="12.50" lengthAdjust="spacingAndGlyphs">0.4</text>
<text x="1182.00" y="493.80" font-size="7.4" fill="#e6e6e6" textLength="70.90" lengthAdjust="spacingAndGlyphs">Ragdoll Blend Time</text>
<text x="1259.40" y="495.60" font-size="7.0" fill="#e0e0e0" textLength="12.20" lengthAdjust="spacingAndGlyphs">0.5</text>
<text x="1027.20" y="493.90" font-size="10.1" fill="#f0f0f0" font-weight="bold" textLength="58.50" lengthAdjust="spacingAndGlyphs">Ragdoll States</text>
<text x="1027.20" y="505.00" font-size="8.6" fill="#9c9c74" font-style="italic" textLength="51.60" lengthAdjust="spacingAndGlyphs">State Machine</text>
<text x="1364.20" y="396.90" font-size="10.1" fill="#f0f0f0" font-weight="bold" textLength="49.20" lengthAdjust="spacingAndGlyphs">Output Pose</text>
<text x="1364.20" y="407.80" font-size="8.6" fill="#b4a468" font-style="italic" textLength="40.00" lengthAdjust="spacingAndGlyphs">AnimGraph</text>
<text x="1376.00" y="458.90" font-size="7.4" fill="#e6e6e6" textLength="22.60" lengthAdjust="spacingAndGlyphs">Result</text>
<text x="1200.4" y="600.8" font-size="64" font-weight="bold" fill="#fff" stroke="#fff" stroke-width="2.2" stroke-linejoin="miter" opacity="0.165" textLength="292.8" lengthAdjust="spacingAndGlyphs">ANIMATION</text>
</svg>
<div id="tip"></div>
<svg class="ly" viewBox="0 0 1506 613"><text x="31.6" y="39.8" font-size="11" fill="#141414" textLength="47.9" lengthAdjust="spacingAndGlyphs">Comment</text></svg>
</div>
</body></html>
